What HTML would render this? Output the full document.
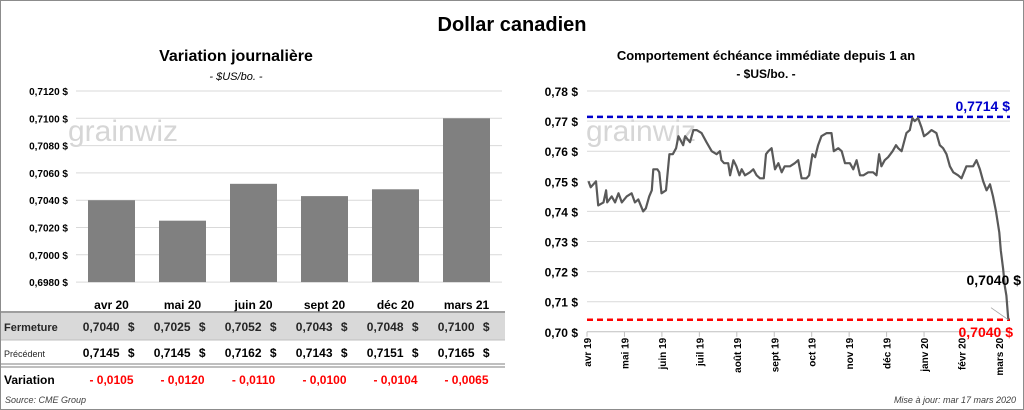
<!DOCTYPE html>
<html><head><meta charset="utf-8"><style>
html,body{margin:0;padding:0;background:#fff}
body{width:1024px;height:410px;position:relative;overflow:hidden;font-family:"Liberation Sans",sans-serif}
#frame{position:absolute;left:0;top:0;width:1022px;height:408px;border:1px solid #8c8c8c}
</style></head><body>
<div id="frame"></div>
<svg id="svg" width="1024" height="410" style="position:absolute;left:0;top:0" font-family="Liberation Sans, sans-serif">
<text x="512" y="31" text-anchor="middle" font-size="20" font-weight="bold">Dollar canadien</text>
<text x="236" y="61" text-anchor="middle" font-size="16" font-weight="bold">Variation  journalière</text>
<text x="236" y="80" text-anchor="middle" font-size="11" font-style="italic">- $US/bo. -</text>
<text x="766" y="60" text-anchor="middle" font-size="13" font-weight="bold">Comportement échéance immédiate depuis 1 an</text>
<text x="766" y="78" text-anchor="middle" font-size="12" font-weight="bold">- $US/bo. -</text>
<text x="68" y="141" font-size="30" fill="#d6d6d6">grainwiz</text>
<text x="586" y="141" font-size="30" fill="#d6d6d6">grainwiz</text>
<g id="left"></g><g id="table"></g><g id="right"></g>
<text x="5" y="403" font-size="9" font-style="italic" fill="#404040">Source: CME Group</text>
<text x="1016" y="403" text-anchor="end" font-size="9" font-style="italic" fill="#404040">Mise à jour: mar 17 mars 2020</text>
</svg>
<script>
const barCats=["avr 20","mai 20","juin 20","sept 20","déc 20","mars 21"];
const closeVals=[0.7040,0.7025,0.7052,0.7043,0.7048,0.7100];
const prevVals=[0.7145,0.7145,0.7162,0.7143,0.7151,0.7165];
const varLabels=["- 0,0105","- 0,0120","- 0,0110","- 0,0100","- 0,0104","- 0,0065"];
const leftTicks=[0.6980,0.7000,0.7020,0.7040,0.7060,0.7080,0.7100,0.7120];
const monthLabels=["avr 19","mai 19","juin 19","juil 19","août 19","sept 19","oct 19","nov 19","déc 19","janv 20","févr 20","mars 20"];
const rightTicks=[0.70,0.71,0.72,0.73,0.74,0.75,0.76,0.77,0.78];
const lineT=[0.04,0.10,0.24,0.30,0.44,0.51,0.54,0.66,0.75,0.84,0.93,1.06,1.19,1.28,1.37,1.50,1.57,1.66,1.73,1.77,1.88,1.93,1.99,2.11,2.20,2.29,2.38,2.44,2.57,2.62,2.75,2.84,2.93,3.06,3.19,3.33,3.46,3.55,3.59,3.66,3.77,3.82,3.91,3.99,4.07,4.13,4.22,4.35,4.44,4.53,4.62,4.72,4.78,4.84,4.93,5.02,5.11,5.20,5.28,5.42,5.55,5.64,5.73,5.86,5.93,6.02,6.09,6.17,6.26,6.40,6.53,6.59,6.71,6.80,6.89,7.02,7.11,7.20,7.29,7.38,7.51,7.64,7.73,7.80,7.86,7.95,8.04,8.16,8.25,8.31,8.40,8.53,8.62,8.69,8.75,8.84,8.93,9.00,9.11,9.20,9.33,9.42,9.51,9.60,9.69,9.78,9.91,10.00,10.13,10.31,10.40,10.49,10.58,10.67,10.76,10.84,10.92,11.01,11.05,11.11,11.16,11.20,11.25];
const lineV=[0.750,0.748,0.750,0.742,0.743,0.747,0.743,0.745,0.743,0.746,0.743,0.745,0.746,0.743,0.744,0.740,0.741,0.745,0.747,0.754,0.754,0.753,0.746,0.747,0.759,0.759,0.761,0.765,0.762,0.765,0.763,0.767,0.767,0.766,0.763,0.760,0.759,0.760,0.757,0.756,0.756,0.752,0.757,0.755,0.752,0.754,0.752,0.753,0.754,0.752,0.751,0.751,0.759,0.760,0.761,0.754,0.756,0.753,0.755,0.755,0.756,0.757,0.751,0.751,0.752,0.759,0.758,0.762,0.765,0.766,0.766,0.760,0.761,0.760,0.756,0.756,0.754,0.757,0.752,0.752,0.753,0.753,0.752,0.759,0.755,0.757,0.758,0.760,0.762,0.761,0.760,0.766,0.767,0.771,0.770,0.771,0.768,0.765,0.766,0.767,0.766,0.762,0.761,0.759,0.755,0.753,0.752,0.751,0.755,0.755,0.757,0.754,0.750,0.747,0.749,0.745,0.740,0.733,0.727,0.721,0.715,0.712,0.704];
const highVal=0.7714, lowVal=0.7040, lastVal=0.7040;

const NS="http://www.w3.org/2000/svg";
function mk(p,tag,a,txt){const e=document.createElementNS(NS,tag);for(const k in a)e.setAttribute(k,a[k]);if(txt!=null)e.textContent=txt;p.appendChild(e);return e;}
const fmt=(v,d)=>v.toFixed(d).replace('.',',');

// left bar chart
const L=document.getElementById('left');
const ly=v=>91+(0.7120-v)/0.0020*27.3;
const catW=71, lx0=76, bw=47;
const cx=i=>lx0+catW*(i+0.5);
leftTicks.forEach(v=>{
 const g=mk(L,'line',{x1:lx0,x2:502,y1:ly(v),y2:ly(v),stroke:'#d9d9d9','stroke-width':1});
 
 
 const t=mk(L,'text',{x:68,y:ly(v)+4,'text-anchor':'end','font-size':10,'font-weight':'bold'},fmt(v,4)+' $');
 
 
});
closeVals.forEach((v,i)=>{
 const b=mk(L,'rect',{x:cx(i)-bw/2,y:ly(v),width:bw,height:ly(0.6980)-ly(v),fill:'#808080'});
 
 
 const t=mk(L,'text',{x:cx(i),y:309,'text-anchor':'middle','font-size':12,'font-weight':'bold'},barCats[i]);
 
 
});

// table
const T=document.getElementById('table');
let r=mk(T,'rect',{x:1,y:313,width:504,height:27,fill:'#d9d9d9'});


[[312,'#7f7f7f',1.5],[340,'#bfbfbf',1],[364,'#7f7f7f',1],[367,'#7f7f7f',1]].forEach(l=>{
 const e=mk(T,'line',{x1:1,x2:505,y1:l[0],y2:l[0],stroke:l[1],'stroke-width':l[2]});
 
 
});
[['Fermeture',331,11,'bold','#262626'],['Précédent',357,9,'normal','#262626'],['Variation',384,12,'bold','#000']].forEach(h=>{
 const e=mk(T,'text',{x:4,y:h[1],'font-size':h[2],'font-weight':h[3],fill:h[4]},h[0]);
 
 
});
barCats.forEach((c,i)=>{
 const x=cx(i);
 let e=mk(T,'text',{x:x+8,y:331,'text-anchor':'end','font-size':12,'font-weight':'bold',fill:'#262626'},fmt(closeVals[i],4));
 
 
 e=mk(T,'text',{x:x+23,y:331,'text-anchor':'end','font-size':12,'font-weight':'bold',fill:'#262626'},'$');
 
 
 e=mk(T,'text',{x:x+8,y:357,'text-anchor':'end','font-size':12,'font-weight':'bold'},fmt(prevVals[i],4));
 
 
 e=mk(T,'text',{x:x+23,y:357,'text-anchor':'end','font-size':12,'font-weight':'bold'},'$');
 
 
 e=mk(T,'text',{x:x,y:384,'text-anchor':'middle','font-size':12,'font-weight':'bold',fill:'#ff0000'},varLabels[i]);
 
 
});

// right line chart
const R=document.getElementById('right');
const ry=v=>91+(0.78-v)/0.01*30.1;
const rx=t=>587+t*37.45;
rightTicks.forEach(v=>{
 const g=mk(R,'line',{x1:587,x2:1010,y1:ry(v),y2:ry(v),stroke:v===0.70?'#bfbfbf':'#d9d9d9','stroke-width':1});
 
 
 const t=mk(R,'text',{x:578,y:ry(v)+5,'text-anchor':'end','font-size':12,'font-weight':'bold'},fmt(v,2)+' $');
 
 
});
monthLabels.forEach((m,i)=>{
 const x=rx(i);
 const k=mk(R,'line',{x1:x,x2:x,y1:ry(0.70),y2:ry(0.70)+5,stroke:'#bfbfbf'});
 
 
 const t=mk(R,'text',{x:0,y:0,'text-anchor':'end','font-size':10,'font-weight':'bold',transform:`translate(${x+4},${ry(0.70)+6}) rotate(-90)`},m);
 
 
});
let e=mk(R,'line',{x1:587,x2:1010,y1:ry(highVal),y2:ry(highVal),stroke:'#0000cc','stroke-width':2.5,'stroke-dasharray':'6,4'});


e=mk(R,'line',{x1:587,x2:1010,y1:ry(lowVal),y2:ry(lowVal),stroke:'#ff0000','stroke-width':2.5,'stroke-dasharray':'6,4'});


const pts=lineT.map((t,i)=>rx(t).toFixed(1)+','+ry(lineV[i]).toFixed(1)).join(' ');
e=mk(R,'polyline',{points:pts,fill:'none',stroke:'#595959','stroke-width':2.2,'stroke-linejoin':'round'});


const lastX=rx(lineT[lineT.length-1]);
e=mk(R,'line',{x1:lastX,y1:ry(lastVal),x2:991,y2:ry(0.708),stroke:'#a6a6a6','stroke-width':0.8});


e=mk(R,'text',{x:1021,y:ry(0.7155),'text-anchor':'end','font-size':14,'font-weight':'bold'},fmt(lastVal,4)+' $');


e=mk(R,'text',{x:1010,y:ry(highVal)-6,'text-anchor':'end','font-size':14,'font-weight':'bold',fill:'#0000cc'},fmt(highVal,4)+' $');


e=mk(R,'text',{x:1013,y:ry(lowVal)+17,'text-anchor':'end','font-size':14,'font-weight':'bold',fill:'#ff0000'},fmt(lowVal,4)+' $');


</script>
</body></html>
